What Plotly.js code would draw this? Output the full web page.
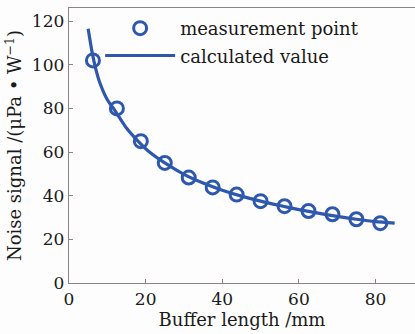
<!DOCTYPE html>
<html>
<head>
<meta charset="utf-8">
<script src="https://cdn.plot.ly/plotly-3.0.1.min.js"></script>
<style>html,body{margin:0;padding:0;background:#fdfdfd;overflow:hidden}#chart{width:415px;height:334px}</style>
</head>
<body>
<div id="chart"></div>
<script>
// Measurement points
const measX = [6.25, 12.5, 18.75, 25, 31.25, 37.5, 43.75, 50, 56.25, 62.5, 68.75, 75, 81.25];
const measY = [102, 80, 65, 55, 48.3, 43.8, 40.5, 37.5, 35.2, 33, 31.5, 29.2, 27.4];
// Calculated curve
const calcX = [5, 6, 7, 8, 10, 12, 15, 18, 21, 25, 30, 35, 40, 45, 50, 55, 60, 65, 70, 75, 80, 85];
const calcY = [116.5, 106, 98, 92, 84, 79, 71, 65, 60, 55, 49.8, 45.8, 42.5, 39.8, 37.5, 35.5, 33.6, 32, 30.5, 29.2, 28.1, 27.4];
const xTicks = [0, 20, 40, 60, 80];
const yTicks = [0, 20, 40, 60, 80, 100, 120];

const blue = '#2d58ad';
const axisCol = '#8c8484';
const fontFam = 'DejaVu Serif, Liberation Serif, serif';
const txtCol = '#1a1a1a';

const traces = [
  {x: measX, y: measY, mode: 'markers', name: 'measurement point', legendgroup: 'a',
   marker: {symbol: 'circle-open', size: 13, color: blue, line: {width: 3, color: blue}}},
  {x: calcX, y: calcY, mode: 'lines', name: 'calculated value', legendgroup: 'b',
   line: {color: blue, width: 3.2, shape: 'spline', smoothing: 0.6}}
];

const layout = {
  width: 415, height: 334,
  margin: {l: 69, r: 0, t: 8, b: 51},
  paper_bgcolor: '#fdfdfd', plot_bgcolor: '#fdfdfd',
  font: {family: fontFam, size: 18, color: txtCol},
  showlegend: true,
  legend: {x: 0.09, y: 0.993, xanchor: 'left', yanchor: 'top', bgcolor: 'rgba(0,0,0,0)',
           traceorder: 'grouped', tracegroupgap: 1,
           font: {family: fontFam, size: 18, color: txtCol}, itemwidth: 70},
  xaxis: {range: [0, 90.3], tickvals: xTicks, ticktext: xTicks.map(String),
          showline: true, mirror: true, linecolor: axisCol, linewidth: 1.3,
          ticks: 'inside', ticklen: 4, tickcolor: axisCol, showgrid: false, zeroline: false,
          tickfont: {family: fontFam, size: 17, color: txtCol},
          title: {text: 'Buffer length /mm', font: {family: fontFam, size: 18, color: txtCol}, standoff: 3}},
  yaxis: {range: [0, 126], tickvals: yTicks, ticktext: yTicks.map(String),
          showline: true, mirror: false, linecolor: axisCol, linewidth: 1.3,
          ticks: 'inside', ticklen: 4, tickcolor: axisCol, showgrid: false, zeroline: false,
          tickfont: {family: fontFam, size: 17, color: txtCol},
          title: {text: 'Noise signal /(μPa • W<sup>−1</sup>)', font: {family: fontFam, size: 18, color: txtCol}, standoff: 5}}
};

Plotly.newPlot('chart', traces, layout, {staticPlot: true, displayModeBar: false});
</script>
</body>
</html>
